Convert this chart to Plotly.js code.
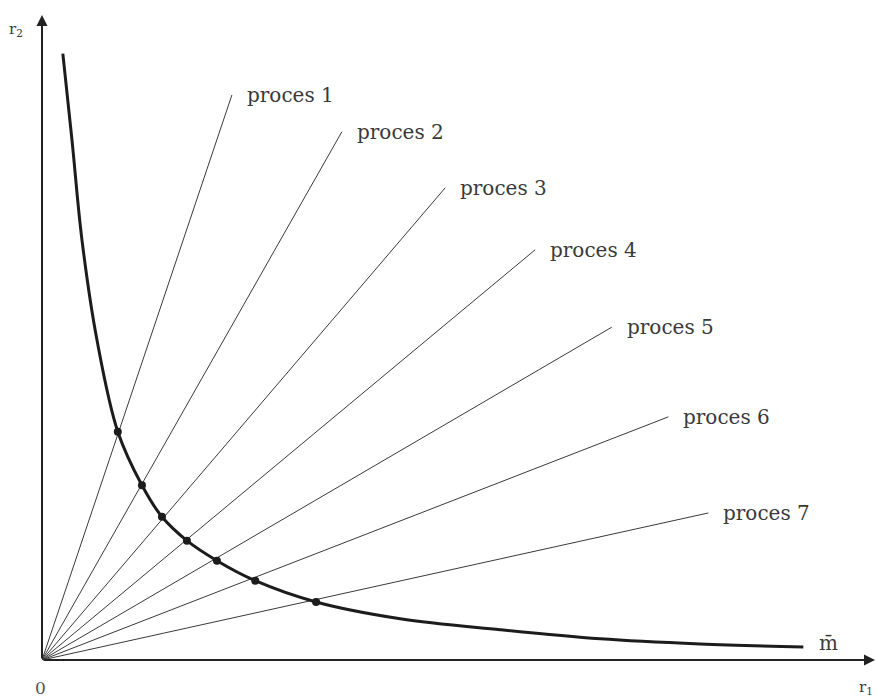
<!DOCTYPE html>
<html>
<head>
<meta charset="utf-8">
<script src="https://cdn.plot.ly/plotly-3.0.1.min.js"></script>
<style>
  body { margin: 0; background: #fff; }
  #graph { width: 877px; height: 698px; }
</style>
</head>
<body>
<div id="graph"></div>
<script>
// curve m-bar (units: axis length = 10)
var curveX = [0.25, 0.36, 0.48, 0.66, 0.91, 1.20, 1.44, 1.74, 2.10, 2.56, 3.29, 4.30, 5.50, 6.70, 7.90, 9.14];
var curveY = [9.40, 8.06, 6.51, 4.96, 3.54, 2.71, 2.22, 1.85, 1.54, 1.23, 0.90, 0.64, 0.47, 0.33, 0.25, 0.20];
// curve points where a process ray cuts it
var dotIndex = [4, 5, 6, 7, 8, 9, 10];

// end points of the process rays (all start at the origin)
var rayNames = ["proces 1", "proces 2", "proces 3", "proces 4", "proces 5", "proces 6", "proces 7"];
var rayEndX = [2.28, 3.60, 4.84, 5.92, 6.84, 7.52, 8.00];
var rayEndY = [8.76, 8.19, 7.32, 6.36, 5.16, 3.77, 2.28];

var serif = "DejaVu Serif, Liberation Serif, serif";
var dataArray = [];
var annotations = [];

for (var i = 0; i < rayNames.length; i++) {
    dataArray.push({
        x: [0, rayEndX[i]],
        y: [0, rayEndY[i]],
        mode: "lines",
        type: "scatter",
        line: {color: "#3a3a3a", width: 1},
        showlegend: false,
        hoverinfo: "skip"
    });
    annotations.push({
        x: rayEndX[i], y: rayEndY[i],
        text: rayNames[i],
        showarrow: false,
        xanchor: "left", yanchor: "middle",
        xshift: 13, yshift: 0,
        font: {family: serif, size: 20, color: "#3a3a3a"}
    });
}

dataArray.push({
    x: curveX,
    y: curveY,
    mode: "lines",
    type: "scatter",
    line: {color: "#1c1c1c", width: 3, shape: "spline", smoothing: 1},
    showlegend: false
});

dataArray.push({
    x: dotIndex.map(function (k) { return curveX[k]; }),
    y: dotIndex.map(function (k) { return curveY[k]; }),
    mode: "markers",
    type: "scatter",
    marker: {color: "#1c1c1c", size: 8},
    showlegend: false
});

// axes drawn as arrows
annotations.push({
    x: 10, y: 0, ax: 0, ay: 0, axref: "x", ayref: "y",
    text: "", showarrow: true, arrowhead: 2, arrowsize: 1.1, arrowwidth: 2, arrowcolor: "#222", standoff: 0
});
annotations.push({
    x: 0, y: 10, ax: 0, ay: 0, axref: "x", ayref: "y",
    text: "", showarrow: true, arrowhead: 2, arrowsize: 1.1, arrowwidth: 2, arrowcolor: "#222", standoff: 0
});

// axis labels
annotations.push({
    xref: "paper", yref: "paper", x: -0.042, y: 0.995,
    text: "r<sub>2</sub>", showarrow: false, xanchor: "left", yanchor: "top",
    font: {family: serif, size: 15, color: "#3a3a3a"}
});
annotations.push({
    xref: "paper", yref: "paper", x: 0.978, y: -0.025,
    text: "r<sub>1</sub>", showarrow: false, xanchor: "left", yanchor: "top",
    font: {family: serif, size: 15, color: "#3a3a3a"}
});
annotations.push({
    x: 0, y: 0, text: "0", showarrow: false, xanchor: "center", yanchor: "top",
    xshift: -2, yshift: -16,
    font: {family: serif, size: 17, color: "#555"}
});
annotations.push({
    x: curveX[curveX.length - 1], y: curveY[curveY.length - 1],
    text: "m\u0304", showarrow: false, xanchor: "left", yanchor: "middle",
    xshift: 14, yshift: 4,
    font: {family: serif, size: 20, color: "#3a3a3a"}
});

var layout = {
    width: 877,
    height: 698,
    margin: {l: 42, r: 2, t: 15, b: 38},
    paper_bgcolor: "#fff",
    plot_bgcolor: "#fff",
    showlegend: false,
    xaxis: {range: [0, 10], showgrid: false, zeroline: false, showticklabels: false, ticks: "", showline: false, fixedrange: true},
    yaxis: {range: [0, 10], showgrid: false, zeroline: false, showticklabels: false, ticks: "", showline: false, fixedrange: true},
    annotations: annotations
};

Plotly.newPlot(document.getElementById("graph"), dataArray, layout, {displayModeBar: false, staticPlot: true});
</script>
</body>
</html>
